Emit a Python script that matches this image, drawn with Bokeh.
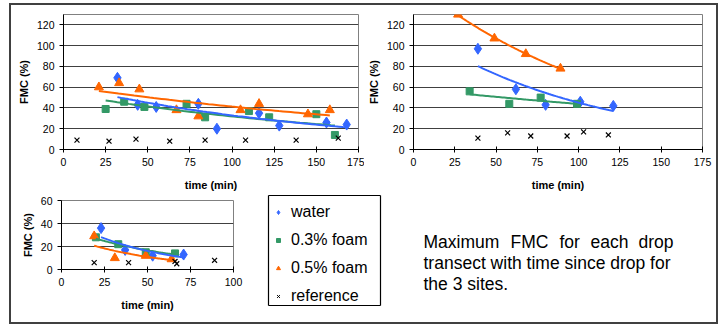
import numpy as np
from bokeh.plotting import figure
from bokeh.layouts import column, row
from bokeh.models import Legend, LegendItem, Label, FixedTicker, Range1d
from bokeh.embed import file_html
from bokeh.resources import INLINE

# ---------------- data (time in min, FMC in %) ----------------
# Site 1
s1_water_t = [32, 44, 55, 80, 91, 116, 128, 156, 168]
s1_water_fmc = [69, 43, 41, 44, 20, 35, 23, 26, 24]
s1_foam03_t = [25, 36, 48, 73, 84, 110, 122, 150, 161]
s1_foam03_fmc = [39, 46, 41, 44, 31, 37, 31, 34, 14]
s1_foam05_t = [21, 33, 45, 67, 80, 105, 116, 145, 158]
s1_foam05_fmc = [60, 64, 58, 38, 32, 38, 44, 34, 38]
s1_ref_t = [8, 27, 43, 63, 84, 108, 138, 163]
s1_ref_fmc = [9, 8, 10, 8, 9, 9, 9, 11]

# Site 2
s2_water_t = [39, 62, 80, 101, 121]
s2_water_fmc = [97, 58, 43, 46, 42]
s2_foam03_t = [34, 58, 77, 99]
s2_foam03_fmc = [56, 44, 50, 44]
s2_foam05_t = [27, 49, 68, 89]
s2_foam05_fmc = [130, 107, 92, 78]
s2_ref_t = [39, 57, 71, 93, 103, 118]
s2_ref_fmc = [11, 16, 13, 13, 17, 14]

# Site 3
s3_water_t = [23, 37, 53, 71]
s3_water_fmc = [36, 17, 12, 13]
s3_foam03_t = [20, 33, 49, 66]
s3_foam03_fmc = [28, 22, 15, 14]
s3_foam05_t = [19, 31, 49, 64]
s3_foam05_fmc = [29, 10, 12, 9]
s3_ref_t = [19, 39, 66, 67, 89]
s3_ref_fmc = [6, 6, 7, 5, 8]

series_names = ["water", "0.3% foam", "0.5% foam", "reference"]
x_ticks_big = [0, 25, 50, 75, 100, 125, 150, 175]
y_ticks_big = [0, 20, 40, 60, 80, 100, 120]
x_ticks_small = [0, 25, 50, 75, 100]
y_ticks_small = [0, 20, 40, 60]

caption_line1 = ["Maximum", "FMC", "for", "each", "drop"]
caption_line2 = "transect with time since drop for"
caption_line3 = "the 3 sites."

BLUE = "#3366FF"
GREEN = "#339966"
ORANGE = "#FF6600"
FONT = "Liberation Sans"


def exp_fit(x, y):
    x = np.asarray(x, float)
    b, a = np.polyfit(x, np.log(np.asarray(y, float)), 1)
    xs = np.linspace(x.min(), x.max(), 60)
    return xs, np.exp(a + b * xs)


def style(p, xt, yt, ylab_standoff=4):
    p.xgrid.visible = False
    p.ygrid.grid_line_color = "#404040"
    p.ygrid.grid_line_width = 1
    p.outline_line_color = "#808080"
    p.xaxis.ticker = FixedTicker(ticks=xt)
    p.yaxis.ticker = FixedTicker(ticks=yt)
    for ax in (p.xaxis, p.yaxis):
        ax.axis_line_color = "black"
        ax.major_tick_line_color = "black"
        ax.minor_tick_line_color = None
        ax.major_label_text_font = FONT
        ax.major_label_text_font_size = "10.5px"
        ax.major_label_text_color = "black"
        ax.axis_label_text_font = FONT
        ax.axis_label_text_font_size = "11px"
        ax.axis_label_text_font_style = "bold"
        ax.axis_label_text_color = "black"
    p.xaxis.major_tick_in = 3
    p.xaxis.major_tick_out = 3
    p.yaxis.major_tick_in = 0
    p.yaxis.major_tick_out = 4
    p.xaxis.axis_label = "time (min)"
    p.yaxis.axis_label = "FMC (%)"
    p.xaxis.axis_label_standoff = 10
    p.yaxis.axis_label_standoff = ylab_standoff


def draw(p, wt, wf, gt, gf, ot, of, rt, rf):
    p.scatter(wt, wf, marker="diamond", size=11, color=BLUE)
    p.scatter(gt, gf, marker="square", size=7, color=GREEN)
    p.scatter(ot, of, marker="triangle", size=9, color=ORANGE)
    p.scatter(rt, rf, marker="x", size=7, line_color="black", line_width=1.2)
    for t, f, c in ((gt, gf, GREEN), (wt, wf, BLUE), (ot, of, ORANGE)):
        xs, ys = exp_fit(t, f)
        p.line(xs, ys, line_color=c, line_width=2)


common = dict(output_backend="svg", toolbar_location=None, frame_align=False,
              background_fill_color="white", border_fill_color="white")

p1 = figure(width=353, height=188, x_range=Range1d(0, 175), y_range=Range1d(0, 130),
            min_border_left=52, min_border_right=6, min_border_top=9, min_border_bottom=44,
            **common)
style(p1, x_ticks_big, y_ticks_big)
draw(p1, s1_water_t, s1_water_fmc, s1_foam03_t, s1_foam03_fmc,
     s1_foam05_t, s1_foam05_fmc, s1_ref_t, s1_ref_fmc)

p2 = figure(width=352, height=188, x_range=Range1d(0, 175), y_range=Range1d(0, 130),
            min_border_left=44, min_border_right=14, min_border_top=9, min_border_bottom=44,
            **common)
style(p2, x_ticks_big, y_ticks_big)
draw(p2, s2_water_t, s2_water_fmc, s2_foam03_t, s2_foam03_fmc,
     s2_foam05_t, s2_foam05_fmc, s2_ref_t, s2_ref_fmc)

p3 = figure(width=245, height=129, x_range=Range1d(0, 100), y_range=Range1d(0, 60),
            min_border_left=50, min_border_right=23, min_border_top=7, min_border_bottom=53,
            **common)
style(p3, x_ticks_small, y_ticks_small)
draw(p3, s3_water_t, s3_water_fmc, s3_foam03_t, s3_foam03_fmc,
     s3_foam05_t, s3_foam05_fmc, s3_ref_t, s3_ref_fmc)

# panel holding the legend and the caption (frame = whole canvas, 1 unit = 1 px)
p4 = figure(width=460, height=129, x_range=Range1d(0, 460), y_range=Range1d(0, 129),
            x_axis_type=None, y_axis_type=None, min_border=0, **common)
p4.xgrid.visible = False
p4.ygrid.visible = False
p4.outline_line_color = None

# legend box frame, drawn as four separate edges
p4.segment(x0=[12, 124, 12, 12], y0=[17, 17, 127, 17],
           x1=[12, 124, 124, 124], y1=[127, 127, 127, 17],
           line_color="black", line_width=1.2)

# legend-only glyphs, placed outside the visible range
lg_w = p4.scatter([-10], [-10], marker="diamond", size=5, color=BLUE)
lg_g = p4.scatter([-10], [-10], marker="square", size=4, color=GREEN)
lg_o = p4.scatter([-10], [-10], marker="triangle", size=5, color=ORANGE)
lg_r = p4.scatter([-10], [-10], marker="x", size=5, line_color="black", line_width=1)
legend = Legend(items=[LegendItem(label=series_names[0], renderers=[lg_w]),
                       LegendItem(label=series_names[1], renderers=[lg_g]),
                       LegendItem(label=series_names[2], renderers=[lg_o]),
                       LegendItem(label=series_names[3], renderers=[lg_r])],
                location=(11, 16),
                label_text_font=FONT, label_text_font_size="16px", label_text_color="black",
                padding=4, spacing=8, label_height=20, glyph_height=10, glyph_width=22,
                label_standoff=2, label_width=81, margin=0,
                border_line_color=None, background_fill_alpha=0)
p4.add_layout(legend)

word_x = [167, 254, 303, 334, 382]
for w, xx in zip(caption_line1, word_x):
    p4.add_layout(Label(x=xx, y=81, x_units="screen", y_units="screen", text=w,
                        text_font=FONT, text_font_size="17.5px", text_color="black",
                        text_baseline="alphabetic"))
p4.add_layout(Label(x=167, y=60, x_units="screen", y_units="screen", text=caption_line2,
                    text_font=FONT, text_font_size="17.5px", text_color="black",
                    text_baseline="alphabetic"))
p4.add_layout(Label(x=167, y=39, x_units="screen", y_units="screen", text=caption_line3,
                    text_font=FONT, text_font_size="17.5px", text_color="black",
                    text_baseline="alphabetic"))

layout = column(row(p1, p2), row(p3, p4),
                styles={"outline": "2px solid #404040", "margin-left": "11px",
                        "margin-top": "5px"})

open("out.html", "w").write(file_html(layout, INLINE))
